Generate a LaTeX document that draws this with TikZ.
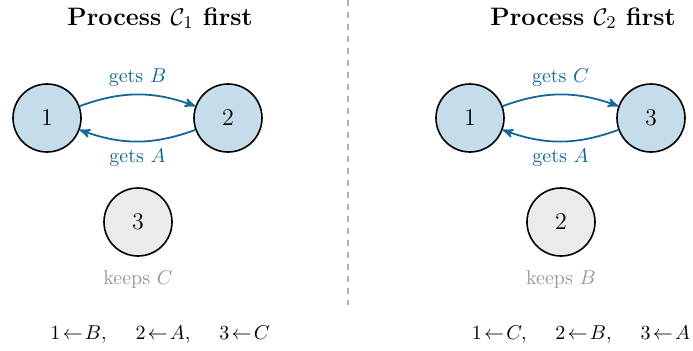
\documentclass[tikz,border=0pt]{standalone}
\usepackage{amssymb}
\usepackage{mathtools}
\usetikzlibrary{arrows}

\definecolor{edgeblue}{RGB}{18,104,150}
\definecolor{nodeblue}{RGB}{197,220,235}
\definecolor{nodegray}{RGB}{235,235,235}
\definecolor{textgray}{RGB}{150,150,150}
\definecolor{rulegray}{RGB}{175,175,175}

\tikzset{
	active/.style={circle, draw=black, thick, fill=nodeblue, minimum size=34pt, inner sep=0pt, font=\large},
	idle/.style={circle, draw=black, thick, fill=nodegray, minimum size=34pt, inner sep=0pt, font=\large},
	gets/.style={->, >=stealth', edgeblue, line width=0.9pt},
	getslabel/.style={edgeblue, font=\normalsize},
	keepslabel/.style={textgray, font=\normalsize},
	title/.style={font=\bfseries\fontsize{12.6}{15}\selectfont}
}

\begin{document}
\begin{tikzpicture}[x=0.5pt,y=0.5pt]
		\useasboundingbox (0,0) rectangle (693,350);
		% left panel
		\node[title] (tl) at (160,332) {Process $\mathcal{C}_1$ first};
		\node[active] (l1) at (47,232) {1};
		\node[active] (l2) at (228,232) {2};
		\node[idle] (l3) at (138,128) {3};
		\draw[gets] (l1) to[bend left=20] node[getslabel, above=0pt] {gets $B$} (l2);
		\draw[gets] (l2) to[bend left=20] node[getslabel, below=0pt] {gets $A$} (l1);
		\node[keepslabel] (lk) at (138,71) {keeps $C$};
		\node (lb) at (160,15) {$1\!\leftarrow\! B,\quad\; 2\!\leftarrow\! A,\quad\; 3\!\leftarrow\! C$};
		% divider
		\draw[rulegray, dashed, line width=0.6pt] (348,350) -- (348,45);
		% right panel
		\node[title] (tr) at (583,332) {Process $\mathcal{C}_2$ first};
		\node[active] (r1) at (470,232) {1};
		\node[active] (r3) at (651,232) {3};
		\node[idle] (r2) at (561,128) {2};
		\draw[gets] (r1) to[bend left=20] node[getslabel, above=0pt] {gets $C$} (r3);
		\draw[gets] (r3) to[bend left=20] node[getslabel, below=0pt] {gets $A$} (r1);
		\node[keepslabel] (rk) at (561,71) {keeps $B$};
		\node (rb) at (581,15) {$1\!\leftarrow\! C,\quad\; 2\!\leftarrow\! B,\quad\; 3\!\leftarrow\! A$};
	\end{tikzpicture}
\end{document}
